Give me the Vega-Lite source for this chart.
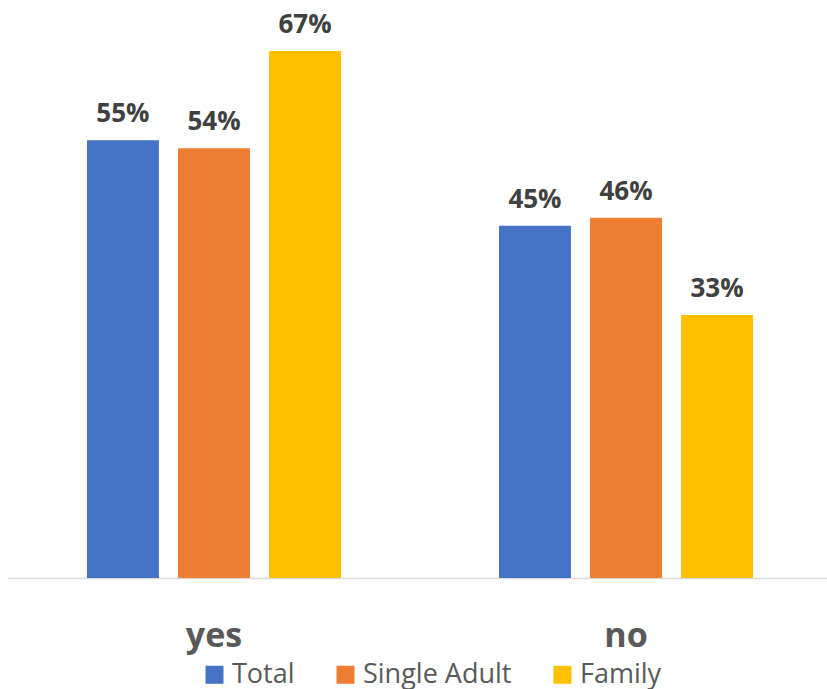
{
  "$schema": "https://vega.github.io/schema/vega-lite/v6.json",
  "width": 819,
  "height": 578,
  "autosize": {"type": "none"},
  "padding": {"left": 8, "top": 0, "right": 0, "bottom": 111},
  "data": {
    "values": [
      {"answer": "yes", "group": "Total", "share": 0.554},
      {"answer": "yes", "group": "Single Adult", "share": 0.544},
      {"answer": "yes", "group": "Family", "share": 0.667},
      {"answer": "no", "group": "Total", "share": 0.446},
      {"answer": "no", "group": "Single Adult", "share": 0.456},
      {"answer": "no", "group": "Family", "share": 0.333}
    ]
  },
  "encoding": {
    "x": {
      "field": "answer",
      "type": "nominal",
      "sort": ["yes", "no"],
      "scale": {"range": [0, 824], "paddingInner": 0.3835, "paddingOuter": 0.1917},
      "axis": {
        "title": null,
        "labelAngle": 0,
        "labelFont": "Open Sans",
        "labelFontSize": 34,
        "labelFontWeight": "bold",
        "labelColor": "#595959",
        "ticks": false,
        "tickSize": 0,
        "labelBaseline": "alphabetic",
        "labelPadding": 68,
        "domainColor": "#d9d9d9",
        "domainWidth": 1.5,
        "grid": false
      }
    },
    "xOffset": {
      "field": "group",
      "type": "nominal",
      "sort": ["Total", "Single Adult", "Family"],
      "scale": {"paddingInner": 0.21, "paddingOuter": 0}
    },
    "y": {
      "field": "share",
      "type": "quantitative",
      "scale": {"domain": [0, 0.7316], "nice": false},
      "axis": null
    }
  },
  "layer": [
    {
      "mark": {"type": "bar"},
      "encoding": {
        "color": {
          "field": "group",
          "type": "nominal",
          "sort": ["Total", "Single Adult", "Family"],
          "scale": {"domain": ["Total", "Single Adult", "Family"], "range": ["#4472C4", "#ED7D31", "#FFC000"]},
          "legend": {
            "orient": "none",
            "legendX": 193,
            "legendY": 661,
            "direction": "horizontal",
            "title": null,
            "symbolType": "square",
            "symbolSize": 324,
            "symbolOpacity": 1,
            "symbolStrokeWidth": 0,
            "labelFont": "Open Sans",
            "labelFontSize": 27,
            "labelColor": "#595959",
            "labelLimit": 300,
            "labelOffset": 4,
            "columnPadding": 37,
            "padding": 0
          }
        }
      }
    },
    {
      "mark": {
        "type": "text",
        "dy": -18,
        "baseline": "alphabetic",
        "font": "Open Sans",
        "fontSize": 26,
        "fontWeight": "bold",
        "color": "#404040"
      },
      "encoding": {
        "text": {"field": "share", "type": "quantitative", "format": ".0%"}
      }
    }
  ],
  "config": {"view": {"stroke": null}}
}
